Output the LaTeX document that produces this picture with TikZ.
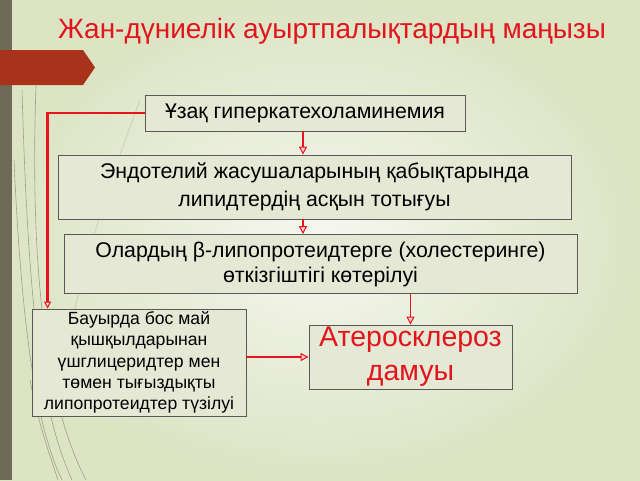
\documentclass[tikz,border=0pt]{standalone}
\usepackage{fontspec}
\setmainfont{Liberation Sans}
\usetikzlibrary{arrows.meta}
\definecolor{bgin}{HTML}{F6F7F0}
\definecolor{bgout}{HTML}{DCE4C4}
\definecolor{boxfill}{HTML}{E4E8D4}
\definecolor{barcol}{HTML}{6E6A55}
\definecolor{tabred}{HTML}{A8321A}
\definecolor{arrred}{HTML}{E8141C}
\definecolor{titlered}{HTML}{E2141C}
\tikzset{
  box/.style={draw=black!65, fill=boxfill, line width=0.8pt, align=center, inner sep=0pt},
  conn/.style={draw=arrred, line width=1.6pt, -{Triangle[length=8pt,width=8pt,fill=red!20,line width=1pt]}},
  thickconn/.style={draw=arrred, line width=2.6pt, -{Triangle[length=7pt,width=7pt,fill=red!20,line width=1pt]}},
  deco/.style={draw=barcol, line width=0.6pt, opacity=0.55}
}
\begin{document}
\begin{tikzpicture}[x=1pt,y=-1pt]
\useasboundingbox (0,0) rectangle (640,480);
\shade[inner color=bgin, outer color=bgout] (0,0) rectangle (640,480);
% decorative curves
\draw[deco] (22,90) .. controls (28,300) and (40,410) .. (72,480);
\draw[deco] (14,160) .. controls (22,340) and (38,430) .. (62,480);
\draw[deco] (36,86) .. controls (30,260) and (44,400) .. (86,480);
\draw[deco, opacity=0.25] (140,100) .. controls (110,180) and (90,240) .. (70,330);
\draw[deco] (30,380) .. controls (40,430) and (50,455) .. (58,480);
\fill[barcol] (0,0) rectangle (12,480);
\fill[tabred] (0,50) -- (83,50) -- (95,67.5) -- (83,85) -- (0,85) -- cycle;
\node[anchor=base, text=titlered, font=\fontsize{28}{32}\selectfont] (title) at (332,38) {Жан-дүниелік ауыртпалықтардың маңызы};
\node[box, minimum width=320pt, minimum height=36pt, font=\fontsize{21.3}{25}\selectfont] (b1) at (305,113) {Ұзақ гиперкатехоламинемия};
\node[box, minimum width=513pt, minimum height=64pt, font=\fontsize{21.3}{28.5}\selectfont] (b2) at (314.5,187) {Эндотелий жасушаларының қабықтарында\\липидтердің асқын тотығуы};
\node[box, minimum width=513pt, minimum height=59pt, font=\fontsize{21.3}{25}\selectfont] (b3) at (320.5,264) {Олардың β-липопротеидтерге (холестеринге)\\өткізгіштігі көтерілуі};
\node[box, minimum width=214pt, minimum height=107pt, font=\fontsize{17.6}{21.3}\selectfont] (b4) at (139,362.5) {Бауырда бос май\\қышқылдарынан\\үшглицеридтер мен\\төмен тығыздықты\\липопротеидтер түзілуі};
\node[box, minimum width=203pt, minimum height=64pt, text=titlered, font=\fontsize{28.5}{34}\selectfont] (b5) at (410.5,357) {Атеросклероз\\дамуы};
\draw[thickconn] (b1.west) -| ([xshift=16pt]b4.north west);
\draw[conn] ([xshift=-2pt]b1.south) -- ([xshift=-2pt]b1.south |- b2.north);
\draw[conn] ([xshift=-2pt]b1.south |- b2.south) -- ([xshift=-2pt]b1.south |- b3.north);
\draw[conn] (b5.north |- b3.south) -- (b5.north);
\draw[conn] (b4.east |- b5.west) -- (b5.west);
\end{tikzpicture}
\end{document}
